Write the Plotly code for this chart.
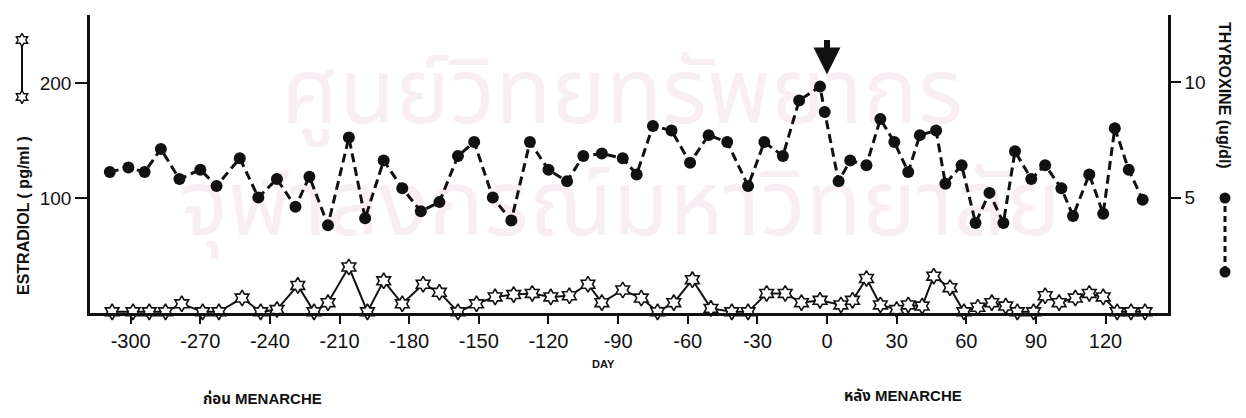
import plotly.graph_objects as go

# ---------------- data ----------------
days_thyroxine = [-309, -301, -294, -287, -279, -270, -263, -253, -245, -237,
                  -229, -223, -215, -206, -199, -191, -183, -175, -167, -159,
                  -152, -144, -136, -128, -120, -112, -105, -97, -88, -82,
                  -75, -67, -59, -51, -43, -34, -27, -19, -12, -3,
                  -1, 5, 10, 17, 23, 29, 35, 40, 47, 51,
                  58, 64, 70, 76, 81, 88, 94, 101, 106, 113,
                  119, 124, 130, 136]
thyroxine = [6.1, 6.3, 6.1, 7.1, 5.8, 6.2, 5.5, 6.7, 5.0, 5.8,
             4.6, 5.9, 3.8, 7.6, 4.1, 6.6, 5.4, 4.4, 4.8, 6.8,
             7.4, 5.0, 4.0, 7.4, 6.2, 5.7, 6.8, 6.9, 6.7, 6.0,
             8.1, 7.9, 6.5, 7.7, 7.4, 5.5, 7.4, 6.8, 9.2, 9.8,
             8.7, 5.7, 6.6, 6.4, 8.4, 7.4, 6.1, 7.7, 7.9, 5.6,
             6.4, 3.9, 5.2, 3.9, 7.0, 5.8, 6.4, 5.4, 4.2, 6.0,
             4.3, 8.0, 6.2, 4.9]

days_estradiol = [-308, -299, -292, -285, -278, -269, -262, -252, -244, -237,
                  -228, -221, -215, -206, -198, -191, -183, -174, -167, -159,
                  -151, -143, -135, -127, -119, -111, -103, -97, -88, -80,
                  -73, -66, -58, -50, -41, -34, -26, -18, -11, -3,
                  6, 11, 17, 23, 30, 35, 41, 46, 53, 59,
                  65, 71, 77, 82, 89, 94, 100, 107, 113, 119,
                  125, 131, 137]
estradiol = [1, 1, 1, 1, 8, 1, 1, 13, 1, 3,
             24, 1, 9, 40, 1, 28, 8, 25, 18, 1,
             8, 14, 16, 17, 14, 15, 25, 9, 20, 13,
             1, 9, 29, 4, 1, 1, 17, 17, 9, 11,
             7, 11, 30, 7, 3, 7, 6, 32, 22, 1,
             5, 9, 6, 1, 1, 15, 9, 13, 17, 14,
             1, 1, 1]

x_tick_vals = [-300, -270, -240, -210, -180, -150, -120, -90, -60, -30, 0, 30, 60, 90, 120]
x_tick_text = ["-300", "-270", "-240", "-210", "-180", "-150", "-120", "-90", "-60", "-30",
               "0", "30", "60", "90", "120"]
left_tick_vals = [100, 200]
right_tick_vals = [5, 10]
legend_key = [0, 1]
menarche_day = 0
watermark_lines = ["ศูนย์วิทยทรัพยากร", "จุฬาลงกรณ์มหาวิทยาลัย"]

# ---------------- layout geometry ----------------
W, H = 1246, 418
PL, PR, PT, PB = 90, 1168, 15, 313        # plot box in pixels
px_per_day = 2.321
day0_px = 827
px_per_pg = 1.15
px_per_ug = 23.1

def fx(p):
    return p / W

def fy(p):
    return (H - p) / H

def day_of(px):
    return (px - day0_px) / px_per_day

def pg_of(py):
    return (PB - py) / px_per_pg

FONT = "Liberation Sans, Arial, Noto Sans Thai, Noto Sans, sans-serif"
INK = "#111111"
WATERMARK = "#f8eef4"

fig = go.Figure()

# faint library watermark of the scanned page, drawn first so it stays behind the data
fig.add_trace(go.Scatter(
    x=[day_of(622), day_of(620)], y=[pg_of(100), pg_of(212)],
    xaxis="x", yaxis="y", mode="text", text=watermark_lines,
    textposition="middle center",
    textfont=dict(size=92, color=WATERMARK, family=FONT),
    cliponaxis=False, showlegend=False, hoverinfo="skip"))

# Estradiol (solid line, star markers)
fig.add_trace(go.Scatter(
    x=days_estradiol, y=estradiol, xaxis="x", yaxis="y",
    mode="lines+markers",
    line=dict(color=INK, width=2),
    marker=dict(symbol="hexagram", size=12, color="white",
                line=dict(color=INK, width=1.6)),
    cliponaxis=False, showlegend=False, name="Estradiol"))

# Thyroxine (dashed line, filled dots)
fig.add_trace(go.Scatter(
    x=days_thyroxine, y=thyroxine, xaxis="x", yaxis="y2",
    mode="lines+markers",
    line=dict(color=INK, width=3, dash="9px,5px"),
    marker=dict(symbol="circle", size=12, color=INK),
    cliponaxis=False, showlegend=False, name="Thyroxine"))

# legend keys (vertical, as in the original)
fig.add_trace(go.Scatter(
    x=[0, 0], y=legend_key, xaxis="x3", yaxis="y3",
    mode="lines+markers",
    line=dict(color=INK, width=2),
    marker=dict(symbol="hexagram", size=10, color="white",
                line=dict(color=INK, width=1.4)),
    cliponaxis=False, showlegend=False, hoverinfo="skip"))
fig.add_trace(go.Scatter(
    x=[0, 0], y=legend_key, xaxis="x4", yaxis="y4",
    mode="lines+markers",
    line=dict(color=INK, width=3, dash="6px,4px"),
    marker=dict(symbol="circle", size=11, color=INK),
    cliponaxis=False, showlegend=False, hoverinfo="skip"))

axis_common = dict(showgrid=False, zeroline=False, showline=True,
                   linecolor=INK, linewidth=2.5, ticks="outside",
                   tickcolor=INK, tickwidth=2, automargin=False)

fig.update_layout(
    width=W, height=H,
    margin=dict(l=0, r=0, t=0, b=0),
    paper_bgcolor="white", plot_bgcolor="white",
    font=dict(family=FONT, color=INK),
    xaxis=dict(domain=[fx(PL), fx(PR)],
               range=[day_of(PL), day_of(PR)],
               tickvals=x_tick_vals, ticktext=x_tick_text, ticklen=8,
               tickfont=dict(size=20, family=FONT, color=INK),
               anchor="y", **axis_common),
    yaxis=dict(domain=[fy(PB), fy(PT)],
               range=[0, pg_of(PT)],
               tickvals=left_tick_vals, ticklen=12,
               tickfont=dict(size=19, family=FONT, color=INK),
               anchor="x", side="left", **axis_common),
    yaxis2=dict(overlaying="y", side="right", anchor="x",
                range=[0, (PB - PT) / px_per_ug],
                tickvals=right_tick_vals, ticklen=10,
                tickfont=dict(size=19, family=FONT, color=INK),
                **axis_common),
    xaxis3=dict(domain=[fx(10), fx(34)], range=[-1, 1], visible=False, anchor="y3"),
    yaxis3=dict(domain=[fy(97), fy(40)], range=[0, 1], visible=False, anchor="x3"),
    xaxis4=dict(domain=[fx(1213), fx(1237)], range=[-1, 1], visible=False, anchor="y4"),
    yaxis4=dict(domain=[fy(272), fy(198)], range=[0, 1], visible=False, anchor="x4"),
)

annotations = [
    dict(text="<b>ESTRADIOL ( pg/ml )</b>", x=fx(23), y=fy(216), textangle=-90,
         font=dict(size=16, color=INK)),
    dict(text="<b>THYROXINE (ug/dl)</b>", x=fx(1225), y=fy(95), textangle=90,
         font=dict(size=16, color=INK)),
    dict(text="<b>DAY</b>", x=fx(603), y=fy(364), font=dict(size=11, color=INK)),
    dict(text="<b>ก่อน MENARCHE</b>", x=fx(262), y=fy(398), font=dict(size=15, color=INK)),
    dict(text="<b>หลัง MENARCHE</b>", x=fx(903), y=fy(395), font=dict(size=15, color=INK)),
]
for a in annotations:
    a.update(xref="paper", yref="paper", showarrow=False, xanchor="center", yanchor="middle")
    fig.add_annotation(**a)

# menarche arrow
fig.add_annotation(x=menarche_day, y=max(thyroxine), xref="x", yref="y2",
                   text="", showarrow=True, arrowhead=2, arrowsize=0.9,
                   arrowwidth=6, arrowcolor=INK, ax=0, ay=-48, standoff=12)

fig.write_html("out.html")
